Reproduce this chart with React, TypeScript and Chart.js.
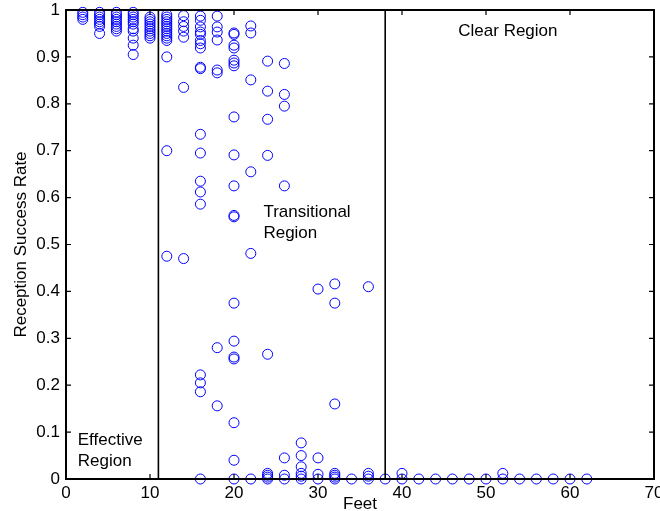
import React, { useEffect, useRef } from "react";
import { Chart, registerables } from "chart.js";

Chart.register(...registerables);

// Distance columns (feet) and the reception success rates measured at each
const feetColumns = [2, 4, 6, 8, 10, 12, 14, 16, 18, 20, 22, 24, 26, 28, 30, 32, 34, 36, 38, 40, 42, 44, 46, 48, 50, 52, 54, 56, 58, 60, 62];
const ratesFt2 = [0.995, 0.99, 0.985, 0.98];
const ratesFt4 = [0.995, 0.99, 0.985, 0.98, 0.975, 0.97, 0.965, 0.95];
const ratesFt6 = [0.995, 0.99, 0.985, 0.98, 0.975, 0.97, 0.965, 0.96, 0.955];
const ratesFt8 = [0.995, 0.99, 0.985, 0.98, 0.975, 0.97, 0.96, 0.955, 0.94, 0.925, 0.905];
const ratesFt10 = [0.985, 0.98, 0.975, 0.97, 0.965, 0.96, 0.955, 0.95, 0.945, 0.94];
const ratesFt12 = [0.99, 0.985, 0.98, 0.975, 0.97, 0.965, 0.96, 0.955, 0.95, 0.945, 0.94, 0.935, 0.9, 0.7, 0.475];
const ratesFt14 = [0.988, 0.975, 0.965, 0.955, 0.942, 0.835, 0.47];
const ratesFt16 = [0.987, 0.978, 0.964, 0.953, 0.948, 0.935, 0.928, 0.919, 0.878, 0.875, 0.735, 0.695, 0.635, 0.612, 0.586, 0.222, 0.205, 0.186, 0];
const ratesFt18 = [0.987, 0.964, 0.953, 0.936, 0.872, 0.866, 0.28, 0.156];
const ratesFt20 = [0.951, 0.948, 0.925, 0.919, 0.893, 0.887, 0.881, 0.772, 0.691, 0.625, 0.562, 0.559, 0.375, 0.294, 0.26, 0.256, 0.12, 0.04, 0];
const ratesFt22 = [0.966, 0.951, 0.851, 0.655, 0.481, 0];
const ratesFt24 = [0.891, 0.827, 0.767, 0.69, 0.266, 0.012, 0.008, 0.004, 0];
const ratesFt26 = [0.886, 0.82, 0.795, 0.625, 0.045, 0.008, 0];
const ratesFt28 = [0.077, 0.05, 0.026, 0.012, 0.006, 0];
const ratesFt30 = [0.405, 0.045, 0.01, 0];
const ratesFt32 = [0.416, 0.375, 0.16, 0.012, 0.008, 0.004, 0];
const ratesFt34 = [0];
const ratesFt36 = [0.41, 0.012, 0.006, 0];
const ratesFt38 = [0];
const ratesFt40 = [0.012, 0];
const ratesFt42 = [0];
const ratesFt44 = [0];
const ratesFt46 = [0];
const ratesFt48 = [0];
const ratesFt50 = [0];
const ratesFt52 = [0.012, 0];
const ratesFt54 = [0];
const ratesFt56 = [0];
const ratesFt58 = [0];
const ratesFt60 = [0];
const ratesFt62 = [0];
const ratesByColumn = [
  ratesFt2, ratesFt4, ratesFt6, ratesFt8, ratesFt10, ratesFt12, ratesFt14, ratesFt16, ratesFt18, ratesFt20,
  ratesFt22, ratesFt24, ratesFt26, ratesFt28, ratesFt30, ratesFt32, ratesFt34, ratesFt36, ratesFt38, ratesFt40,
  ratesFt42, ratesFt44, ratesFt46, ratesFt48, ratesFt50, ratesFt52, ratesFt54, ratesFt56, ratesFt58, ratesFt60, ratesFt62,
];

// Region boundaries (feet) and region labels
const regionBoundaries = [11, 38];
const regionLabels = [
  { lines: ["Effective", "Region"], x: 1.4, y: 0.083 },
  { lines: ["Transitional", "Region"], x: 23.5, y: 0.569 },
  { lines: ["Clear Region"], x: 46.7, y: 0.955 },
];

// Tick labels
const xTickLabels = ["0", "10", "20", "30", "40", "50", "60", "70"];
const yTickLabels = ["0", "0.1", "0.2", "0.3", "0.4", "0.5", "0.6", "0.7", "0.8", "0.9", "1"];

const FONT = '"Liberation Sans", Arial, Helvetica, sans-serif';
const FONT_SIZE = 17;

const framePlugin = {
  id: "matlabFrame",
  afterDatasetsDraw(chart: any) {
    const { ctx, chartArea, scales } = chart;
    const { left, right, top, bottom } = chartArea;
    const xs = scales.x;
    const ys = scales.y;
    ctx.save();
    ctx.strokeStyle = "#000";
    // region boundary lines
    ctx.lineWidth = 1.6;
    for (const b of regionBoundaries) {
      const px = xs.getPixelForValue(b);
      ctx.beginPath();
      ctx.moveTo(px, top);
      ctx.lineTo(px, bottom);
      ctx.stroke();
    }
    // inward ticks
    ctx.lineWidth = 1.2;
    const tl = 5;
    for (const t of xs.ticks) {
      const px = xs.getPixelForValue(t.value);
      ctx.beginPath();
      ctx.moveTo(px, bottom);
      ctx.lineTo(px, bottom - tl);
      ctx.moveTo(px, top);
      ctx.lineTo(px, top + tl);
      ctx.stroke();
    }
    for (const t of ys.ticks) {
      const py = ys.getPixelForValue(t.value);
      ctx.beginPath();
      ctx.moveTo(left, py);
      ctx.lineTo(left + tl, py);
      ctx.moveTo(right, py);
      ctx.lineTo(right - tl, py);
      ctx.stroke();
    }
    // box
    ctx.lineWidth = 2;
    ctx.strokeRect(left, top, right - left, bottom - top);
    // region labels
    ctx.fillStyle = "#000";
    ctx.font = `${FONT_SIZE}px ${FONT}`;
    ctx.textAlign = "left";
    ctx.textBaseline = "middle";
    for (const lab of regionLabels) {
      const px = xs.getPixelForValue(lab.x);
      const py = ys.getPixelForValue(lab.y);
      lab.lines.forEach((line, i) => {
        ctx.fillText(line, px, py + i * 21);
      });
    }
    ctx.restore();
  },
};

export default function App() {
  const canvasRef = useRef<HTMLCanvasElement | null>(null);

  useEffect(() => {
    const canvas = canvasRef.current;
    if (!canvas) return;
    const points: { x: number; y: number }[] = [];
    feetColumns.forEach((ft, i) => {
      for (const r of ratesByColumn[i]) points.push({ x: ft, y: r });
    });

    const chart = new Chart(canvas, {
      type: "scatter",
      data: {
        datasets: [
          {
            label: "Reception Success Rate",
            data: points,
            pointStyle: "circle",
            pointRadius: 5,
            pointBorderWidth: 1,
            pointBorderColor: "rgb(0,0,255)",
            pointBackgroundColor: "rgba(0,0,0,0)",
            clip: false as any,
          },
        ],
      },
      options: {
        animation: false,
        responsive: false,
        layout: { padding: { top: 10, right: 6, left: 0, bottom: 0 } },
        plugins: {
          legend: { display: false },
          tooltip: { enabled: false },
        },
        scales: {
          x: {
            type: "linear",
            min: 0,
            max: 70,
            grid: { display: false, drawTicks: false },
            border: { display: false },
            ticks: {
              stepSize: 10,
              padding: 4,
              color: "#000",
              font: { family: FONT, size: FONT_SIZE },
              maxRotation: 0,
              callback: (_v: any, i: number) => xTickLabels[i],
            },
            title: {
              display: true,
              text: "Feet",
              color: "#000",
              font: { family: FONT, size: FONT_SIZE, lineHeight: 1 },
              padding: { top: 0, bottom: -2 },
            },
            afterFit: (s: any) => {
              s.height = 32;
              s.paddingLeft = 0;
              s.paddingRight = 0;
            },
          },
          y: {
            type: "linear",
            min: 0,
            max: 1,
            grid: { display: false, drawTicks: false },
            border: { display: false },
            ticks: {
              stepSize: 0.1,
              padding: 6,
              color: "#000",
              font: { family: FONT, size: FONT_SIZE },
              callback: (_v: any, i: number) => yTickLabels[i],
            },
            title: {
              display: true,
              text: "Reception Success Rate",
              color: "#000",
              font: { family: FONT, size: FONT_SIZE, lineHeight: 1 },
              padding: { top: 13, bottom: 0 },
            },
            afterFit: (s: any) => {
              s.width = 66;
              s.paddingTop = 0;
              s.paddingBottom = 0;
            },
          },
        },
      },
      plugins: [framePlugin],
    });
    return () => chart.destroy();
  }, []);

  return (
    <div style={{ position: "absolute", left: 0, top: 0, width: 660, height: 511, background: "#fff" }}>
      <canvas ref={canvasRef} width={660} height={511} style={{ display: "block", width: 660, height: 511 }} />
    </div>
  );
}
